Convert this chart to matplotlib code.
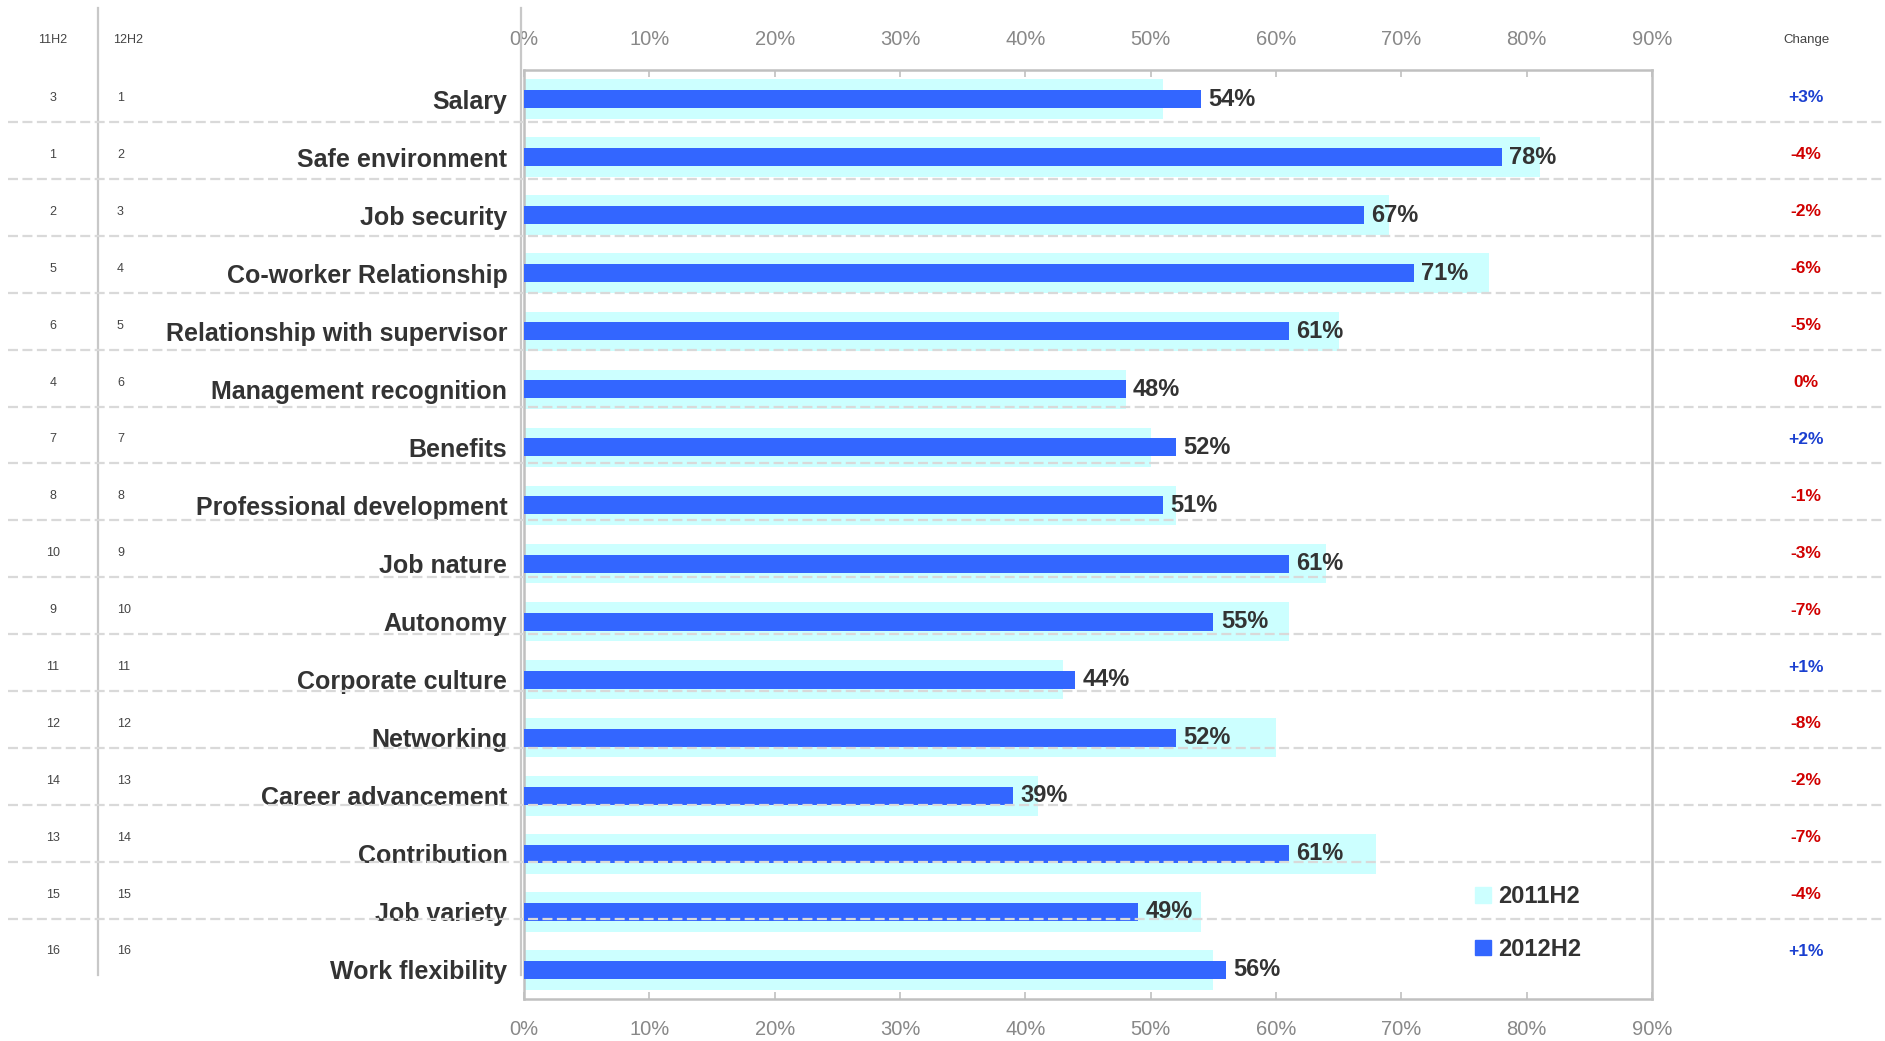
import matplotlib
matplotlib.use('Agg')
import matplotlib.pyplot as plt
from matplotlib.patches import Patch
from matplotlib.ticker import FuncFormatter

plt.rcParams['font.family'] = ['Liberation Sans', 'DejaVu Sans']

# Datos
categorias = [
    'Salary', 'Safe environment', 'Job security', 'Co-worker Relationship',
    'Relationship with supervisor', 'Management recognition', 'Benefits',
    'Professional development', 'Job nature', 'Autonomy', 'Corporate culture',
    'Networking', 'Career advancement', 'Contribution', 'Job variety',
    'Work flexibility',
]
valores_2011 = [51, 81.1, 69, 77, 65, 48, 50, 52, 64, 61, 43, 60, 41, 68, 54, 55]
valores_2012 = [54, 78, 67, 71, 61, 48, 52, 51, 61, 55, 44, 52, 39, 61, 49, 56]
rank_11h2 = [3, 1, 2, 5, 6, 4, 7, 8, 10, 9, 11, 12, 14, 13, 15, 16]
rank_12h2 = list(range(1, 17))
cambios = [3, -4, -2, -6, -5, 0, 2, -1, -3, -7, 1, -8, -2, -7, -4, 1]
ticks_pct = [0, 10, 20, 30, 40, 50, 60, 70, 80, 90]

W, H = 1885, 1041
fig = plt.figure(figsize=(W / 100, H / 100), dpi=100)
fig.patch.set_facecolor('white')

# Eje principal (posiciones en pixeles de la figura)
left, right, top, bottom = 524, 1652, 70, 999
ax = fig.add_axes([left / W, 1 - bottom / H, (right - left) / W, (bottom - top) / H])

n = len(categorias)
pos = list(range(n))
ax.barh(pos, valores_2011, height=0.68, color='#ccffff', zorder=2, label='2011H2')
ax.barh(pos, valores_2012, height=0.31, color='#3366ff', zorder=3, label='2012H2')

for y, v in zip(pos, valores_2012):
    ax.text(v + 0.6, y, f'{v:.0f}%', va='center', ha='left', fontsize=17,
            fontweight='bold', color='#333333', zorder=4)

ax.set_xlim(0, 90)
ax.set_ylim(n - 0.5, -0.5)
ax.set_xticks(ticks_pct)
ax.xaxis.set_major_formatter(FuncFormatter(lambda x, _: f'{x:.0f}%'))
ax.tick_params(axis='x', which='both', top=True, bottom=True, labeltop=True,
               labelbottom=True, direction='in', length=5, width=1.2,
               color='#c0c0c0', labelcolor='#888888', labelsize=14.5, pad=15)
ax.set_yticks(pos)
ax.set_yticklabels(categorias, fontsize=18, fontweight='bold', color='#333333')
ax.tick_params(axis='y', length=0, pad=12)
for s in ax.spines.values():
    s.set_color('#c0c0c0')
    s.set_linewidth(1.8)

ax.legend(handles=[Patch(color='#ccffff', label='2011H2'),
                   Patch(color='#3366ff', label='2012H2')],
          loc='upper left', bbox_to_anchor=(1454 / W, 1 - 864 / H),
          bbox_transform=fig.transFigure, frameon=False, handlelength=0.65,
          handleheight=0.65, handletextpad=0.3, labelspacing=1.25,
          prop={'size': 17, 'weight': 'bold'}, labelcolor='#333333')

# Capa superpuesta: tabla de rankings, cambios y lineas punteadas
ov = fig.add_axes([0, 0, 1, 1], zorder=5)
ov.set_xlim(0, W)
ov.set_ylim(H, 0)
ov.axis('off')
ov.patch.set_alpha(0)

y0, paso = 98, 56.9
ov.text(53, 40, '11H2', ha='center', va='center', fontsize=9, color='#444444')
ov.text(113, 40, '12H2', ha='left', va='center', fontsize=9, color='#444444')
ov.text(1806, 40, 'Change', ha='center', va='center', fontsize=9.5, color='#444444')

for i in range(n):
    y = y0 + paso * i
    ov.text(53, y, str(rank_11h2[i]), ha='center', va='center', fontsize=9, color='#444444')
    ov.text(117, y, str(rank_12h2[i]), ha='left', va='center', fontsize=9, color='#444444')
    c = cambios[i]
    color = '#1a3fd0' if c > 0 else '#d00000'
    txt = f'+{c}%' if c > 0 else f'{c}%'
    ov.text(1806, y, txt, ha='center', va='center', fontsize=12.5,
            fontweight='bold', color=color)
    if i < n - 1:
        ov.plot([8, W], [y + 24, y + 24], color='#d9d9d9', lw=1.6,
                dashes=(4.5, 2), zorder=5)

ov.plot([98, 98], [8, 975], color='#c8c8c8', lw=1.6)
ov.plot([521, 521], [8, 975], color='#c8c8c8', lw=1.6)

fig.savefig('out.png', dpi=100, facecolor='white')
plt.close(fig)
